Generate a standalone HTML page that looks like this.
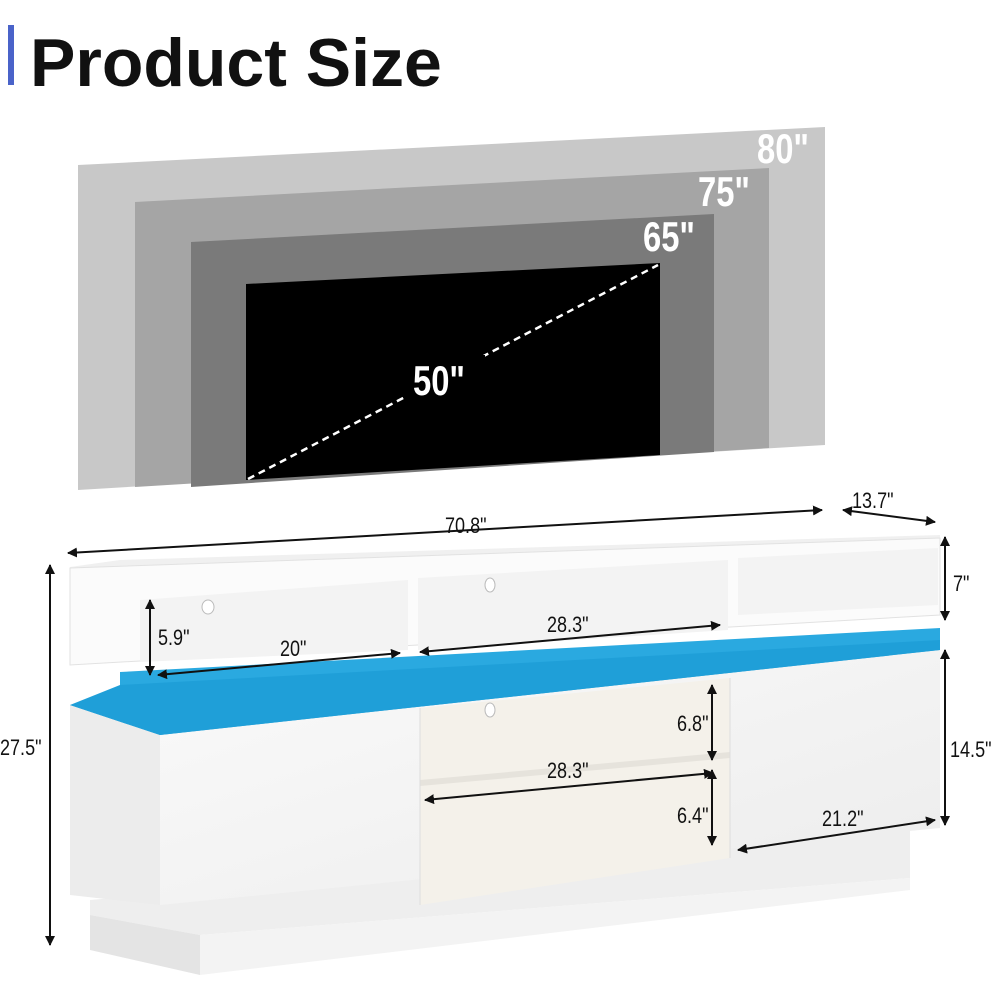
<!DOCTYPE html>
<html><head><meta charset="utf-8"><style>
html,body{margin:0;padding:0;background:#fff;width:1000px;height:1000px;overflow:hidden}
svg{display:block}
.t{font-family:"Liberation Sans",sans-serif;}
</style></head><body>
<svg width="1000" height="1000" viewBox="0 0 1000 1000" xmlns="http://www.w3.org/2000/svg">
<defs>
<marker id="a" viewBox="0 0 10 10" refX="9" refY="5" markerWidth="5" markerHeight="5" orient="auto-start-reverse"><path d="M0,0 L10,5 L0,10 z" fill="#111"/></marker>
<linearGradient id="gl" x1="0" y1="0" x2="1" y2="1"><stop offset="0" stop-color="#fafafa"/><stop offset="1" stop-color="#ececec"/></linearGradient>
</defs>
<rect x="8" y="25" width="6" height="60" fill="#4a63c9"/>
<text x="30" y="86" class="t" font-size="68" font-weight="bold" fill="#111">Product Size</text>

<polygon points="78,165 825,127 825,445 78,490" fill="#c8c8c8"/>
<polygon points="135,202 769,168 769,448 135,487" fill="#a5a5a5"/>
<polygon points="191,242 714,214 714,452 191,487" fill="#7a7a7a"/>
<polygon points="246,284 660,263 660,455 246,480" fill="#000"/>
<line x1="248" y1="479" x2="658" y2="265" stroke="#fff" stroke-width="2.5" stroke-dasharray="7,5"/>
<rect x="405" y="355" width="80" height="50" fill="#000"/>
<g class="t" font-weight="bold" fill="#fff" font-size="42">
<text x="0" y="0" transform="translate(757 163) scale(0.78 1)">80"</text>
<text x="0" y="0" transform="translate(698 206) scale(0.78 1)">75"</text>
<text x="0" y="0" transform="translate(643 251) scale(0.78 1)">65"</text>
<text x="0" y="0" transform="translate(413 395) scale(0.78 1)">50"</text>
</g>

<!-- base -->
<polygon points="90,915 200,935 910,878 910,830 90,900" fill="#eeeeee"/>
<polygon points="200,935 910,878 910,890 200,975" fill="#f3f3f3"/>
<polygon points="90,915 200,935 200,975 90,950" fill="#e4e4e4"/>
<!-- lower cabinet -->
<polygon points="70,705 160,733 160,905 70,895" fill="#ececec"/>
<polygon points="160,733 940,650 940,828 160,905" fill="url(#gl)"/>
<polygon points="420,708 730,678 730,858 420,905" fill="#f4f1ea"/>
<polygon points="420,780 730,752 730,758 420,786" fill="#e6e3dc"/>
<line x1="420" y1="708" x2="420" y2="905" stroke="#ddd"/>
<line x1="730" y1="678" x2="730" y2="858" stroke="#ddd"/>
<ellipse cx="490" cy="710" rx="5" ry="7" fill="#fff" stroke="#bbb"/>
<!-- blue -->
<polygon points="120,672 940,628 940,650 160,735 70,705 120,700" fill="#2aa9e0"/>
<polygon points="120,685 940,640 940,650 160,735 70,705" fill="#1f9fd8"/>
<!-- upper unit -->
<polygon points="70,567 120,560 940,535 940,540 70,572" fill="#f0f0f0"/>
<polygon points="70,568 940,538 940,615 70,665" fill="#fbfbfb" stroke="#e2e2e2"/>
<polygon points="140,600 408,580 408,650 140,662" fill="#f3f3f3"/>
<polygon points="418,578 728,560 728,630 418,650" fill="#f3f3f3"/>
<polygon points="738,558 938,548 938,605 738,615" fill="#f3f3f3"/>
<ellipse cx="208" cy="607" rx="6" ry="7" fill="#fff" stroke="#bbb"/>
<ellipse cx="490" cy="585" rx="5" ry="7" fill="#fff" stroke="#bbb"/>

<g stroke="#111" stroke-width="2" fill="none" marker-start="url(#a)" marker-end="url(#a)">
<line x1="68" y1="553" x2="822" y2="510"/>
<line x1="843" y1="510" x2="935" y2="522"/>
<line x1="50" y1="565" x2="50" y2="945"/>
<line x1="945" y1="537" x2="945" y2="620"/>
<line x1="945" y1="650" x2="945" y2="825"/>
<line x1="150" y1="600" x2="150" y2="675"/>
<line x1="158" y1="675" x2="400" y2="653"/>
<line x1="420" y1="652" x2="720" y2="625"/>
<line x1="425" y1="800" x2="713" y2="773"/>
<line x1="712" y1="685" x2="712" y2="760"/>
<line x1="712" y1="770" x2="712" y2="845"/>
<line x1="738" y1="850" x2="935" y2="820"/>
</g>
<g class="t" fill="#111" font-size="22">
<text transform="translate(445 533) scale(0.82 1)">70.8"</text>
<text transform="translate(852 508) scale(0.82 1)">13.7"</text>
<text transform="translate(0 755) scale(0.82 1)">27.5"</text>
<text transform="translate(953 591) scale(0.82 1)">7"</text>
<text transform="translate(950 757) scale(0.82 1)">14.5"</text>
<text transform="translate(158 645) scale(0.82 1)">5.9"</text>
<text transform="translate(280 656) scale(0.82 1)">20"</text>
<text transform="translate(547 632) scale(0.82 1)">28.3"</text>
<text transform="translate(547 778) scale(0.82 1)">28.3"</text>
<text transform="translate(677 731) scale(0.82 1)">6.8"</text>
<text transform="translate(677 823) scale(0.82 1)">6.4"</text>
<text transform="translate(822 826) scale(0.82 1)">21.2"</text>
</g>
</svg>
</body></html>
